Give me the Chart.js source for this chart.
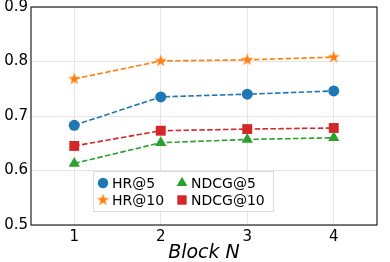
<!DOCTYPE html>
<html>
<head>
<meta charset="utf-8">
<script src="https://cdn.jsdelivr.net/npm/chart.js@4/dist/chart.umd.min.js"></script>
<style>
  html, body { margin: 0; padding: 0; background: #fff; }
  #wrap { width: 390px; height: 262px; }
</style>
</head>
<body>
<div id="wrap"><canvas id="blockChart" width="390" height="262"></canvas></div>
<script>
// values
var blocks = ["1", "2", "3", "4"];
var hr5 = [0.683, 0.735, 0.740, 0.746];
var hr10 = [0.768, 0.801, 0.803, 0.808];
var ndcg5 = [0.613, 0.651, 0.657, 0.660];
var ndcg10 = [0.645, 0.673, 0.676, 0.678];
var yTicks = [0.5, 0.6, 0.7, 0.8, 0.9];

var FONT = "'DejaVu Sans', sans-serif";

// matplotlib-like filled star marker
function makeStar(color, r) {
  var c = document.createElement('canvas');
  var s = Math.ceil(r * 2 + 2);
  c.width = s; c.height = s;
  var g = c.getContext('2d');
  g.beginPath();
  for (var i = 0; i < 10; i++) {
    var rad = (i % 2 == 0) ? r : r * 0.382;
    var a = -Math.PI / 2 + i * Math.PI / 5;
    var px = s / 2 + rad * Math.cos(a);
    var py = s / 2 + rad * Math.sin(a);
    if (i == 0) g.moveTo(px, py); else g.lineTo(px, py);
  }
  g.closePath();
  g.fillStyle = color;
  g.fill();
  return c;
}
var starImg = makeStar('#ff7f0e', 6.5);

function series(label, data, color, style, radius) {
  return {
    label: label,
    data: data,
    borderColor: color,
    backgroundColor: color,
    borderWidth: 1.6,
    borderDash: [5.5, 2.4],
    pointStyle: style,
    pointRadius: radius,
    pointHoverRadius: radius,
    pointBorderWidth: 0,
    fill: false,
    tension: 0
  };
}

var datasets = [
  series("HR@5", hr5, '#1f77b4', 'circle', 5.5),
  series("NDCG@5", ndcg5, '#2ca02c', 'triangle', 6.5),
  series("HR@10", hr10, '#ff7f0e', starImg, 6.5),
  series("NDCG@10", ndcg10, '#d62728', 'rect', 7)
];

// frame + inner legend
var framePlugin = {
  id: 'frame',
  afterDraw: function(chart) {
    var ctx = chart.ctx, a = chart.chartArea;
    ctx.save();
    ctx.strokeStyle = '#333';
    ctx.lineWidth = 1.3;
    ctx.strokeRect(a.left, a.top, a.right - a.left, a.bottom - a.top);

    // legend box
    var bx = a.left + 62, by = 171, bw = 180, bh = 40;
    ctx.fillStyle = 'rgba(255,255,255,0.85)';
    ctx.strokeStyle = '#dcdcdc';
    ctx.lineWidth = 1;
    ctx.fillRect(bx, by, bw, bh);
    ctx.strokeRect(bx + 0.5, by + 0.5, bw, bh);

    var cols = [bx + 10, bx + 89];
    var rows = [by + 12, by + 29];
    ctx.font = '14px ' + FONT;
    ctx.textBaseline = 'middle';
    chart.data.datasets.forEach(function(ds, i) {
      var mx = cols[i % 2], my = rows[Math.floor(i / 2)];
      ctx.save();
      ctx.fillStyle = ds.backgroundColor;
      ctx.strokeStyle = ds.backgroundColor;
      ctx.lineWidth = 0;
      Chart.helpers.drawPoint(ctx, {pointStyle: ds.pointStyle, rotation: 0, borderWidth: 0, radius: ds.pointRadius * 0.95}, mx, my);
      ctx.restore();
      ctx.fillStyle = '#000';
      ctx.fillText(ds.label, mx + 9, my + 1);
    });
    ctx.restore();
  }
};

var myChart = new Chart(document.getElementById('blockChart').getContext('2d'), {
  type: 'line',
  data: { labels: blocks, datasets: datasets },
  options: {
    responsive: false,
    animation: false,
    devicePixelRatio: 1,
    layout: { padding: { top: 7, right: 13, left: 0, bottom: 0 } },
    plugins: { legend: { display: false }, tooltip: { enabled: false } },
    scales: {
      x: {
        type: 'category',
        offset: true,
        grid: { offset: false, color: '#e6e6e6', lineWidth: 1, drawTicks: false },
        border: { display: false },
        ticks: { color: '#000', font: { family: FONT, size: 15 }, padding: 3, maxRotation: 0 },
        title: {
          display: true,
          text: 'Block N',
          color: '#000',
          font: { family: FONT, size: 19, style: 'italic' },
          padding: { top: 0, bottom: -2 }
        },
        afterFit: function(scale) { scale.height = 37; scale.paddingLeft = 0; scale.paddingRight = 0; }
      },
      y: {
        min: 0.5,
        max: 0.9,
        afterBuildTicks: function(scale) {
          scale.ticks = yTicks.map(function(v) { return { value: v }; });
        },
        grid: { color: '#e6e6e6', lineWidth: 1, drawTicks: false },
        border: { display: false },
        ticks: {
          color: '#000',
          font: { family: FONT, size: 15 },
          padding: 3,
          callback: function(v) { return Number(v).toFixed(1); }
        },
        afterFit: function(scale) { scale.width = 31; scale.paddingTop = 0; scale.paddingBottom = 0; }
      }
    }
  },
  plugins: [framePlugin]
});
</script>
</body>
</html>
